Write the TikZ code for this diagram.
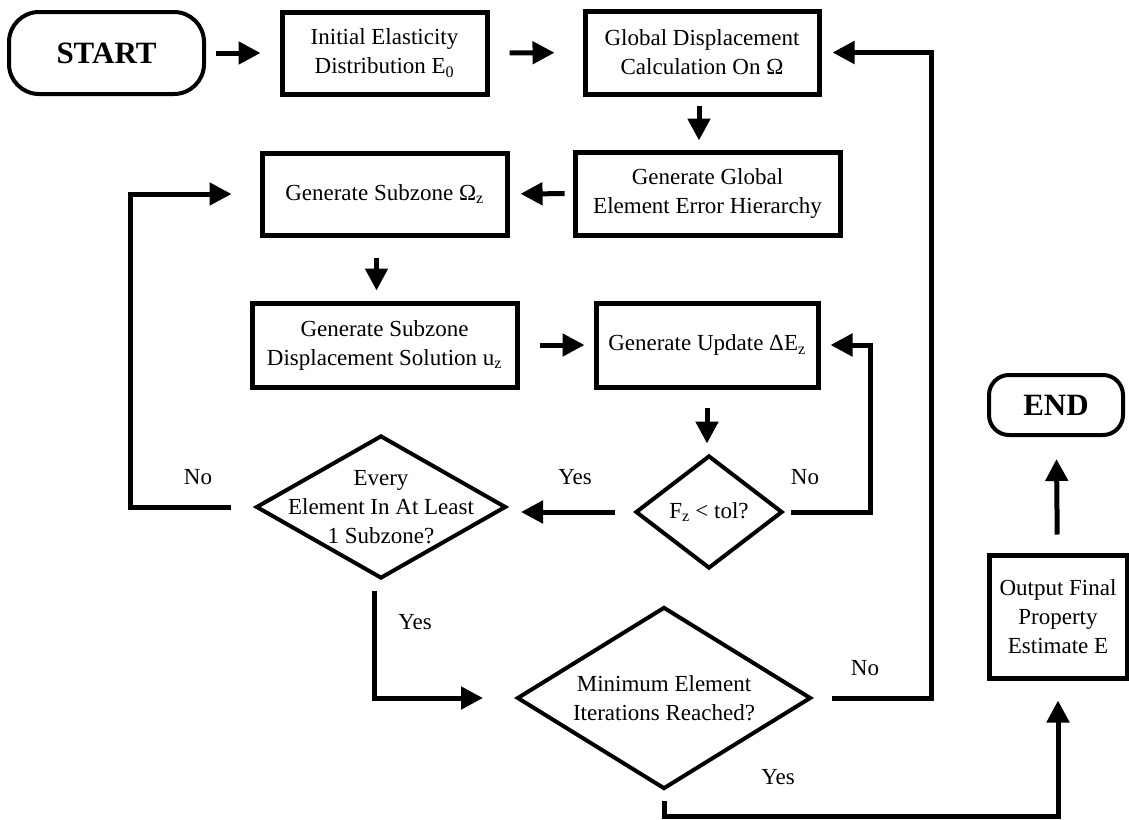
\documentclass[tikz,border=0pt]{standalone}
\usepackage{fontspec}
\setmainfont{Liberation Serif}
\usetikzlibrary{shapes.geometric,arrows.meta}

\begin{document}
\begin{tikzpicture}[x=1pt, y=-1pt,
    every node/.style={inner sep=0pt, align=center, font=\fontsize{23}{29}\selectfont},
    box/.style={rectangle, draw, line width=5pt},
    term/.style={rectangle, draw, line width=4pt, font=\fontsize{31}{31}\selectfont\bfseries},
    decision/.style={diamond, draw, line width=4pt},
    flow/.style={line width=5pt, -{Triangle[length=22pt, width=22pt]}, shorten <=10pt, shorten >=10pt}]

% Define the page size
\useasboundingbox (0,0) rectangle (1129,819);

% Top row
\node[term, rounded corners=30pt, minimum width=195pt, minimum height=82pt] (start) at (106.5,53) {START};
\node[box, minimum width=205pt, minimum height=82pt] (init) at (384.5,53) {Initial Elasticity\\Distribution E\textsubscript{0}};
\node[box, minimum width=234pt, minimum height=83pt] (glob) at (702,52.5) {Global Displacement\\Calculation On Ω};

% Second row
\node[box, minimum width=245pt, minimum height=82pt] (sub) at (384.5,194) {Generate Subzone Ω\textsubscript{z}};
\node[box, minimum width=265pt, minimum height=83pt] (hier) at (707.5,193.5) {Generate Global\\Element Error Hierarchy};

% Third row
\node[box, minimum width=265pt, minimum height=84pt] (subdisp) at (384.5,345) {Generate Subzone\\Displacement Solution u\textsubscript{z}};
\node[box, minimum width=222pt, minimum height=84pt] (upd) at (707,345) {Generate Update ΔE\textsubscript{z}};

% Decisions
\node[decision, minimum width=250pt, minimum height=143pt] (every) at (381,507) {};
\node (every-txt) at (every) {Every\\Element In At Least\\1 Subzone?};
\node[decision, minimum width=147pt, minimum height=113pt] (ftol) at (709,512) {};
\node (ftol-txt) at (ftol) {F\textsubscript{z} < tol?};
\node[decision, minimum width=294pt, minimum height=182pt] (mini) at (664,698) {};
\node (mini-txt) at (mini) {Minimum Element\\Iterations Reached?};

% Right column
\node[term, rounded corners=20pt, minimum width=134pt, minimum height=60pt] (end) at (1056,405) {END};
\node[box, minimum width=138pt, minimum height=123pt] (outp) at (1058,616.5) {Output Final\\Property\\Estimate E};

% Branch labels
\node (no-every) at (198,477) {No};
\node (yes-ftol) at (575,477) {Yes};
\node (no-ftol) at (805,477) {No};
\node (yes-every) at (415,622) {Yes};
\node (no-mini) at (865,668) {No};
\node (yes-mini) at (778,777) {Yes};

% Main flow
\draw[flow, shorten >=19pt] (start) -- (init);
\draw[flow, shorten <=20pt, shorten >=28pt] (init) -- (glob);
\draw[flow, shorten <=9pt, shorten >=9pt] ([xshift=-3pt]glob.south) -- ([xshift=-3pt]glob.south |- hier.north);
\draw[flow, shorten <=8pt, shorten >=11pt] (hier) -- (sub);
\draw[flow, shorten <=20pt] ([xshift=-8pt]sub.south) -- ([xshift=-8pt]subdisp.north);
\draw[flow, shorten <=20pt, shorten >=9pt] (subdisp) -- (upd);
\draw[flow, shorten <=18pt] (upd.south) -- (upd.south |- ftol.north);

% Loops and branches
\draw[flow, shorten <=19pt, shorten >=13pt] (ftol.west) -- (every.east |- ftol.west);
\draw[flow, shorten <=6pt] (ftol.east) -- ++(86,0) |- (upd.east);
\draw[flow, shorten <=23pt, shorten >=28pt] (every.west) -- ++(-124,0) |- (sub.west);
\draw[flow, shorten >=32pt] ([xshift=-7pt]every.south) |- (mini.west);
\draw[flow, shorten <=19pt, shorten >=11pt] (mini.east) -- ++(118,0) |- (glob.east);
\draw[flow, shorten >=20pt] (mini.south) -- ++(0,25) -| (outp.south);
\draw[flow, shorten <=18pt, shorten >=22pt] (outp) -- (end);

\end{tikzpicture}
\end{document}
